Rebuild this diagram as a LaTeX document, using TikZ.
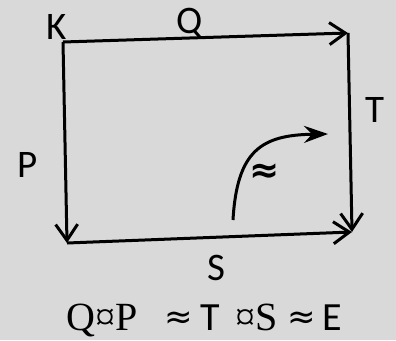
\documentclass[tikz,border=0pt]{standalone}
\usepackage{fontspec}
\setmainfont{Carlito}
\newfontfamily\serifface{Liberation Serif}
\newfontfamily\symface{DejaVu Sans}
\usepackage{xcolor}
\usetikzlibrary{arrows.meta}
\definecolor{paper}{HTML}{D9D9D9}
\newcommand{\approxsym}{\raisebox{2pt}{\symface\fontsize{34}{36}\selectfont ≈}}

\begin{document}
\begin{tikzpicture}[
  x=1pt, y=-1pt,
  every node/.style={inner sep=0pt, font=\fontsize{39}{46}\selectfont},
  side/.style={line width=3pt, -{Straight Barb[length=16pt, width=22pt, line width=3pt]}},
  curvearr/.style={line width=3pt, -{Stealth[length=24pt, width=17pt, inset=8pt]}}
]
\fill[paper] (0,0) rectangle (396,340);
\useasboundingbox (0,0) rectangle (396,340);
\coordinate (K)  at (63,42);
\coordinate (TR) at (348,33);
\coordinate (BL) at (67,243);
\coordinate (BR) at (352,232);
\coordinate (c0) at (233,220);
\coordinate (c1) at (328,134);
\draw[side] (K) -- (TR);
\draw[side] (K) -- (BL);
\draw[side] (BL) -- (BR);
\draw[side] (TR) -- (BR);
\draw[curvearr] (c0) .. controls (237,150) and (262,135) .. (c1);
\node[anchor=base] (lk) at (57,39)  {K};
\node[anchor=base] (lq) at (190,33) {Q};
\node[anchor=base] (lt) at (375,122) {T};
\node[anchor=base] (lp) at (28,177) {P};
\node[anchor=base] (ls) at (216,280) {S};
\node (la) at (265,173) {\symface\bfseries\fontsize{36}{40}\selectfont ≈};
\node[anchor=base west] (eq) at (66,330)
  {\fontsize{40}{46}\selectfont{\serifface Q¤P}\hspace{27pt}\approxsym\hspace{8pt}T\hspace{15pt}{\serifface ¤S}\hspace{10pt}\approxsym\hspace{6pt}E};
\end{tikzpicture}
\end{document}
